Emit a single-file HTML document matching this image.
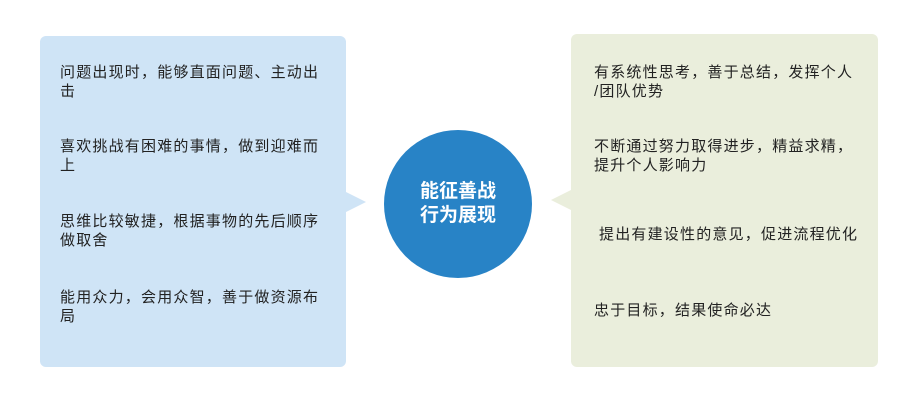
<!DOCTYPE html>
<html><head><meta charset="utf-8"><style>
body{margin:0;width:916px;height:410px;background:#fff;position:relative;font-family:"Liberation Sans","Noto Sans CJK SC",sans-serif;overflow:hidden}
.p{position:absolute;border-radius:6px}
.t{position:absolute;font-size:15px;line-height:19px;color:#222;letter-spacing:1.2px}
</style></head><body>
<div class="p" style="left:40px;top:36px;width:306px;height:331px;background:#cfe4f6"></div>
<div style="position:absolute;left:346px;top:192px;width:0;height:0;border-top:10px solid transparent;border-bottom:10px solid transparent;border-left:20px solid #cfe4f6"></div>
<div class="p" style="left:571px;top:34px;width:307px;height:333px;background:#eaeedc"></div>
<div style="position:absolute;left:551px;top:190px;width:0;height:0;border-top:10px solid transparent;border-bottom:10px solid transparent;border-right:20px solid #eaeedc"></div>
<div style="position:absolute;left:384px;top:130px;width:148px;height:148px;border-radius:50%;background:#2883c6"></div>
<div style="position:absolute;left:384px;top:180px;width:148px;text-align:center;color:#fff;font-weight:bold;font-size:19px;line-height:24px">能征善战<br>行为展现</div>
<div class="t" style="left:60px;top:63px;width:262px">问题出现时，能够直面问题、主动出击</div>
<div class="t" style="left:60px;top:137px;width:262px">喜欢挑战有困难的事情，做到迎难而上</div>
<div class="t" style="left:60px;top:212px;width:262px">思维比较敏捷，根据事物的先后顺序做取舍</div>
<div class="t" style="left:60px;top:288px;width:262px">能用众力，会用众智，善于做资源布局</div>
<div class="t" style="left:594px;top:63px;width:272px">有系统性思考，善于总结，发挥个人<br>/团队优势</div>
<div class="t" style="left:594px;top:137px;width:262px">不断通过努力取得进步，精益求精，提升个人影响力</div>
<div class="t" style="left:599px;top:225px;width:264px">提出有建设性的意见，促进流程优化</div>
<div class="t" style="left:594px;top:301px;width:262px">忠于目标，结果使命必达</div>
</body></html>
